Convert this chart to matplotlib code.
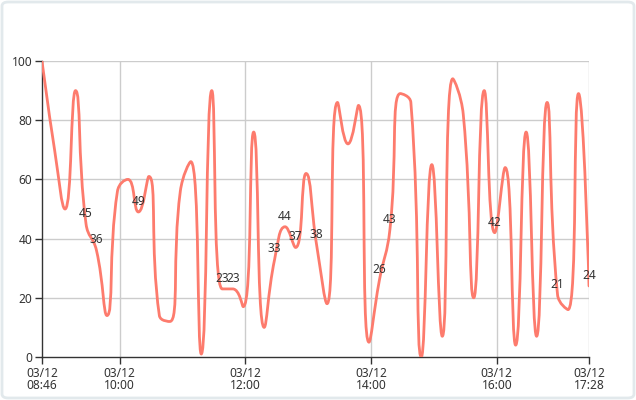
import matplotlib
matplotlib.use("Agg")
import matplotlib.pyplot as plt
from matplotlib.path import Path
from matplotlib.patches import PathPatch, FancyBboxPatch
import numpy as np

plt.rcParams['font.family'] = ['Noto Sans', 'DejaVu Sans']

date_label = "03/12"
times = ["08:46", "08:58", "09:08", "09:18", "09:28", "09:38", "09:48", "09:58",
         "10:08", "10:18", "10:28", "10:38", "10:48", "10:58", "11:08", "11:18",
         "11:28", "11:38", "11:48", "11:58", "12:08", "12:18", "12:28", "12:38",
         "12:48", "12:58", "13:08", "13:18", "13:28", "13:38", "13:48", "13:58",
         "14:08", "14:18", "14:28", "14:38", "14:48", "14:58", "15:08", "15:18",
         "15:28", "15:38", "15:48", "15:58", "16:08", "16:18", "16:28", "16:38",
         "16:48", "16:58", "17:08", "17:18", "17:28"]
values = [100, 70, 50, 90, 45, 36, 14, 56, 60, 49, 61, 14, 12, 56, 66, 1, 90,
          23, 23, 17, 76, 10, 33, 44, 37, 62, 38, 18, 86, 72, 85, 5, 26, 43,
          89, 86, 0, 65, 7, 94, 82, 20, 90, 42, 64, 4, 76, 7, 86, 21, 16, 89, 24]
tick_times = ["08:46", "10:00", "12:00", "14:00", "16:00", "17:28"]
y_ticks = [0, 20, 40, 60, 80, 100]

line_color = "#fd7b6d"
text_color = "#333333"
grid_color = "#cccccc"


def to_min(s):
    h, m = s.split(":")
    return int(h) * 60 + int(m)


t0 = to_min(times[0])
xs = np.array([to_min(t) - t0 for t in times], dtype=float)
ys = np.array(values, dtype=float)
t_end = xs[-1]

W, H = 636, 400
fig = plt.figure(figsize=(W / 100, H / 100), dpi=100)
fig.patch.set_facecolor("white")

border = FancyBboxPatch((2 / W, 2 / H), (W - 4) / W, (H - 4) / H,
                        boxstyle="round,pad=0,rounding_size=0.01",
                        transform=fig.transFigure, facecolor="none",
                        edgecolor="#e2e9ec", linewidth=2, zorder=0)
fig.patches.append(border)

left, right, top, bottom = 42, 589, 61, 357
ax = fig.add_axes([left / W, (H - bottom) / H, (right - left) / W, (bottom - top) / H])
ax.set_facecolor("none")
ax.set_xlim(0, t_end)
ax.set_ylim(0, 100)

# pixel scale for smoothing
sx = (right - left) / t_end
sy = (bottom - top) / 100.0
P = np.column_stack([xs * sx, ys * sy])

smooth = 0.5
verts = [tuple(P[0])]
codes = [Path.MOVETO]
cp0 = P[0].copy()
n = len(P)
for i in range(1, n):
    x, y = P[i]
    px, py = P[i - 1]
    if i == n - 1:
        cp1 = np.array([x, y])
        ncp0 = np.array([x, y])
    else:
        nx, ny = P[i + 1]
        vx, vy = nx - px, ny - py
        l0 = np.hypot(x - px, y - py)
        l1 = np.hypot(nx - x, ny - y)
        r = l1 / (l1 + l0)
        ncx = x + vx * smooth * r
        ncy = y + vy * smooth * r
        ncx = min(ncx, max(nx, x)); ncy = min(ncy, max(ny, y))
        ncx = max(ncx, min(nx, x)); ncy = max(ncy, min(ny, y))
        vx, vy = ncx - x, ncy - y
        c1x = x - vx * l0 / l1
        c1y = y - vy * l0 / l1
        c1x = min(c1x, max(px, x)); c1y = min(c1y, max(py, y))
        c1x = max(c1x, min(px, x)); c1y = max(c1y, min(py, y))
        vx, vy = x - c1x, y - c1y
        ncx = x + vx * l1 / l0
        ncy = y + vy * l1 / l0
        cp1 = np.array([c1x, c1y])
        ncp0 = np.array([ncx, ncy])
    verts += [tuple(cp0), tuple(cp1), (x, y)]
    codes += [Path.CURVE4] * 3
    cp0 = ncp0

verts = np.array(verts)
verts[:, 0] /= sx
verts[:, 1] /= sy
path = Path(verts, codes)
ax.add_patch(PathPatch(path, facecolor="none", edgecolor=line_color,
                       linewidth=2, zorder=3, capstyle="round", joinstyle="round"))

# labels
for x, v in zip(xs, values):
    if 20 < v < 50:
        ax.annotate(str(v), (x, v), xytext=(0, 4), textcoords="offset pixels",
                    ha="center", va="bottom", fontsize=8.6, color=text_color,
                    zorder=4)

# grid
xt = [to_min(t) - t0 for t in tick_times]
for yv in y_ticks[1:]:
    ax.axhline(yv, color=grid_color, lw=1, zorder=1)
for xv in xt[1:]:
    ax.axvline(xv, color=grid_color, lw=1, zorder=1)

ax.set_yticks(y_ticks)
ax.set_yticklabels([str(v) for v in y_ticks])
ax.set_xticks(xt)
ax.set_xticklabels([f"{date_label}\n{t}" for t in tick_times], linespacing=0.9)

for s in ["top", "right"]:
    ax.spines[s].set_visible(False)
for s in ["left", "bottom"]:
    ax.spines[s].set_color(text_color)
    ax.spines[s].set_linewidth(1)
    ax.spines[s].set_zorder(2)
ax.tick_params(axis="both", colors=text_color, labelsize=8.6, length=5, width=1)
ax.tick_params(axis="y", pad=2)
ax.tick_params(axis="x", pad=2)

fig.savefig("out.png", dpi=100, facecolor="white")
